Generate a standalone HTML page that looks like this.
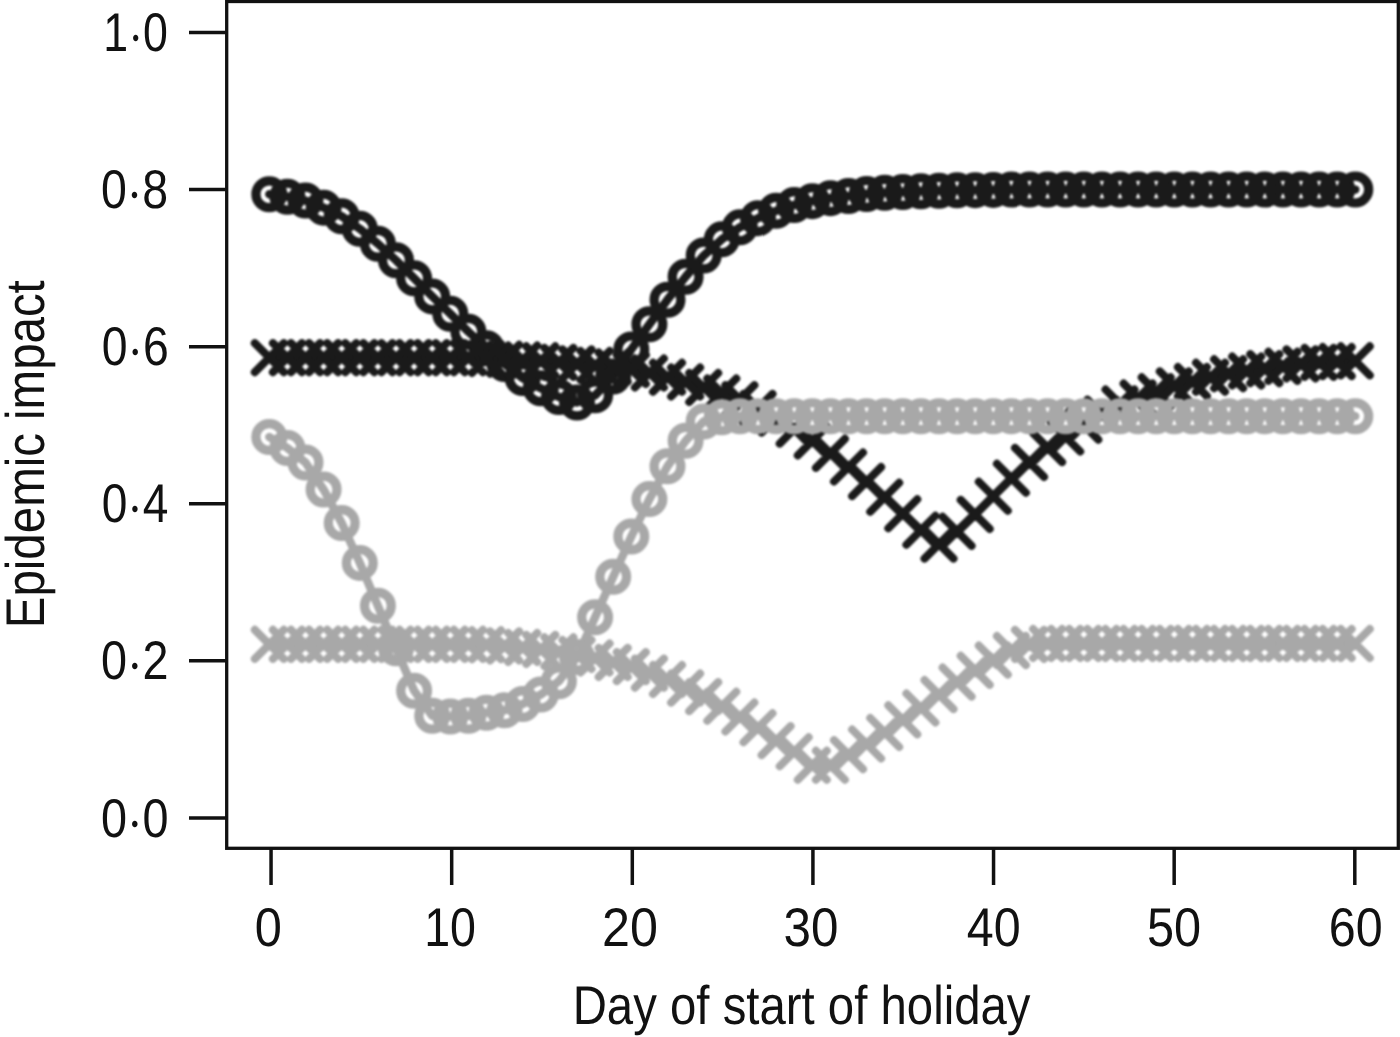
<!DOCTYPE html>
<html><head><meta charset="utf-8"><title>Epidemic impact vs day of start of holiday</title>
<style>html,body{margin:0;padding:0;background:#fff;width:1400px;height:1037px;overflow:hidden}svg{display:block}</style>
</head><body>
<svg width="1400" height="1037" viewBox="0 0 1400 1037">
<defs>
<clipPath id="pc"><rect x="228.3" y="3.1" width="1168.4" height="843.6"/></clipPath>
<filter id="bl" x="-5%" y="-5%" width="110%" height="110%" color-interpolation-filters="sRGB"><feGaussianBlur stdDeviation="1.3"/></filter>
</defs>
<rect width="1400" height="1037" fill="#fff"/>
<g clip-path="url(#pc)"><g filter="url(#bl)">
<path d="M269.30,194.29 L287.40,196.65 L305.50,200.58 L323.60,207.64 L341.70,216.28 L359.80,228.85 L377.90,243.77 L396.00,260.27 L414.10,278.33 L432.20,296.39 L450.30,313.67 L468.40,331.74 L486.50,348.23 L504.60,363.94 L522.70,378.08 L540.80,388.29 L558.90,396.93 L577.00,402.42 L595.10,395.35 L613.20,376.51 L631.30,349.41 L649.40,324.28 L667.50,299.69 L685.60,276.76 L703.70,255.55 L721.80,239.37 L739.90,227.36 L758.00,218.17 L776.10,210.79 L794.20,204.97 L812.30,201.13 L830.40,198.14 L848.50,196.10 L866.60,193.90 L884.70,192.72 L902.80,191.94 L920.90,191.15 L939.00,190.68 L957.10,190.37 L975.20,190.13 L993.30,189.89 L1011.40,189.58 L1029.50,189.58 L1047.60,189.58 L1065.70,189.58 L1083.80,189.58 L1101.90,189.58 L1120.00,189.58 L1138.10,189.58 L1156.20,189.58 L1174.30,189.58 L1192.40,189.58 L1210.50,189.58 L1228.60,189.58 L1246.70,189.58 L1264.80,189.58 L1282.90,189.58 L1301.00,189.58 L1319.10,189.58 L1337.20,189.58 L1355.30,189.58" fill="none" stroke="#1a1a1a" stroke-width="8.4" stroke-linejoin="round" stroke-linecap="round"/>
<g fill="none" stroke="#1a1a1a" stroke-width="9.2">
<circle cx="269.30" cy="194.29" r="13.4"/>
<circle cx="287.40" cy="196.65" r="13.4"/>
<circle cx="305.50" cy="200.58" r="13.4"/>
<circle cx="323.60" cy="207.64" r="13.4"/>
<circle cx="341.70" cy="216.28" r="13.4"/>
<circle cx="359.80" cy="228.85" r="13.4"/>
<circle cx="377.90" cy="243.77" r="13.4"/>
<circle cx="396.00" cy="260.27" r="13.4"/>
<circle cx="414.10" cy="278.33" r="13.4"/>
<circle cx="432.20" cy="296.39" r="13.4"/>
<circle cx="450.30" cy="313.67" r="13.4"/>
<circle cx="468.40" cy="331.74" r="13.4"/>
<circle cx="486.50" cy="348.23" r="13.4"/>
<circle cx="504.60" cy="363.94" r="13.4"/>
<circle cx="522.70" cy="378.08" r="13.4"/>
<circle cx="540.80" cy="388.29" r="13.4"/>
<circle cx="558.90" cy="396.93" r="13.4"/>
<circle cx="577.00" cy="402.42" r="13.4"/>
<circle cx="595.10" cy="395.35" r="13.4"/>
<circle cx="613.20" cy="376.51" r="13.4"/>
<circle cx="631.30" cy="349.41" r="13.4"/>
<circle cx="649.40" cy="324.28" r="13.4"/>
<circle cx="667.50" cy="299.69" r="13.4"/>
<circle cx="685.60" cy="276.76" r="13.4"/>
<circle cx="703.70" cy="255.55" r="13.4"/>
<circle cx="721.80" cy="239.37" r="13.4"/>
<circle cx="739.90" cy="227.36" r="13.4"/>
<circle cx="758.00" cy="218.17" r="13.4"/>
<circle cx="776.10" cy="210.79" r="13.4"/>
<circle cx="794.20" cy="204.97" r="13.4"/>
<circle cx="812.30" cy="201.13" r="13.4"/>
<circle cx="830.40" cy="198.14" r="13.4"/>
<circle cx="848.50" cy="196.10" r="13.4"/>
<circle cx="866.60" cy="193.90" r="13.4"/>
<circle cx="884.70" cy="192.72" r="13.4"/>
<circle cx="902.80" cy="191.94" r="13.4"/>
<circle cx="920.90" cy="191.15" r="13.4"/>
<circle cx="939.00" cy="190.68" r="13.4"/>
<circle cx="957.10" cy="190.37" r="13.4"/>
<circle cx="975.20" cy="190.13" r="13.4"/>
<circle cx="993.30" cy="189.89" r="13.4"/>
<circle cx="1011.40" cy="189.58" r="13.4"/>
<circle cx="1029.50" cy="189.58" r="13.4"/>
<circle cx="1047.60" cy="189.58" r="13.4"/>
<circle cx="1065.70" cy="189.58" r="13.4"/>
<circle cx="1083.80" cy="189.58" r="13.4"/>
<circle cx="1101.90" cy="189.58" r="13.4"/>
<circle cx="1120.00" cy="189.58" r="13.4"/>
<circle cx="1138.10" cy="189.58" r="13.4"/>
<circle cx="1156.20" cy="189.58" r="13.4"/>
<circle cx="1174.30" cy="189.58" r="13.4"/>
<circle cx="1192.40" cy="189.58" r="13.4"/>
<circle cx="1210.50" cy="189.58" r="13.4"/>
<circle cx="1228.60" cy="189.58" r="13.4"/>
<circle cx="1246.70" cy="189.58" r="13.4"/>
<circle cx="1264.80" cy="189.58" r="13.4"/>
<circle cx="1282.90" cy="189.58" r="13.4"/>
<circle cx="1301.00" cy="189.58" r="13.4"/>
<circle cx="1319.10" cy="189.58" r="13.4"/>
<circle cx="1337.20" cy="189.58" r="13.4"/>
<circle cx="1355.30" cy="189.58" r="13.4"/>
</g>
<path d="M269.30,357.66 L287.40,357.66 L305.50,357.66 L323.60,357.66 L341.70,357.66 L359.80,357.66 L377.90,357.66 L396.00,357.66 L414.10,357.66 L432.20,357.66 L450.30,357.66 L468.40,357.66 L486.50,358.44 L504.60,359.23 L522.70,360.01 L540.80,360.80 L558.90,362.37 L577.00,363.94 L595.10,365.51 L613.20,367.08 L631.30,369.44 L649.40,372.97 L667.50,377.29 L685.60,382.00 L703.70,387.50 L721.80,393.00 L739.90,399.67 L758.00,408.39 L776.10,418.13 L794.20,429.13 L812.30,440.91 L830.40,453.32 L848.50,466.98 L866.60,481.59 L884.70,497.22 L902.80,513.71 L920.90,530.21 L939.00,544.11 L957.10,531.31 L975.20,514.42 L993.30,496.28 L1011.40,478.29 L1029.50,462.43 L1047.60,447.58 L1065.70,436.98 L1083.80,425.20 L1101.90,414.20 L1120.00,403.99 L1138.10,398.10 L1156.20,391.82 L1174.30,385.93 L1192.40,381.61 L1210.50,377.29 L1228.60,373.76 L1246.70,371.01 L1264.80,368.65 L1282.90,366.30 L1301.00,363.94 L1319.10,362.37 L1337.20,361.58 L1355.30,360.80" fill="none" stroke="#1a1a1a" stroke-width="8.4" stroke-linejoin="round" stroke-linecap="round"/>
<path d="M254.80,343.16l29.0,29.0M254.80,372.16l29.0,-29.0M272.90,343.16l29.0,29.0M272.90,372.16l29.0,-29.0M291.00,343.16l29.0,29.0M291.00,372.16l29.0,-29.0M309.10,343.16l29.0,29.0M309.10,372.16l29.0,-29.0M327.20,343.16l29.0,29.0M327.20,372.16l29.0,-29.0M345.30,343.16l29.0,29.0M345.30,372.16l29.0,-29.0M363.40,343.16l29.0,29.0M363.40,372.16l29.0,-29.0M381.50,343.16l29.0,29.0M381.50,372.16l29.0,-29.0M399.60,343.16l29.0,29.0M399.60,372.16l29.0,-29.0M417.70,343.16l29.0,29.0M417.70,372.16l29.0,-29.0M435.80,343.16l29.0,29.0M435.80,372.16l29.0,-29.0M453.90,343.16l29.0,29.0M453.90,372.16l29.0,-29.0M472.00,343.94l29.0,29.0M472.00,372.94l29.0,-29.0M490.10,344.73l29.0,29.0M490.10,373.73l29.0,-29.0M508.20,345.51l29.0,29.0M508.20,374.51l29.0,-29.0M526.30,346.30l29.0,29.0M526.30,375.30l29.0,-29.0M544.40,347.87l29.0,29.0M544.40,376.87l29.0,-29.0M562.50,349.44l29.0,29.0M562.50,378.44l29.0,-29.0M580.60,351.01l29.0,29.0M580.60,380.01l29.0,-29.0M598.70,352.58l29.0,29.0M598.70,381.58l29.0,-29.0M616.80,354.94l29.0,29.0M616.80,383.94l29.0,-29.0M634.90,358.47l29.0,29.0M634.90,387.47l29.0,-29.0M653.00,362.79l29.0,29.0M653.00,391.79l29.0,-29.0M671.10,367.50l29.0,29.0M671.10,396.50l29.0,-29.0M689.20,373.00l29.0,29.0M689.20,402.00l29.0,-29.0M707.30,378.50l29.0,29.0M707.30,407.50l29.0,-29.0M725.40,385.17l29.0,29.0M725.40,414.17l29.0,-29.0M743.50,393.89l29.0,29.0M743.50,422.89l29.0,-29.0M761.60,403.63l29.0,29.0M761.60,432.63l29.0,-29.0M779.70,414.63l29.0,29.0M779.70,443.63l29.0,-29.0M797.80,426.41l29.0,29.0M797.80,455.41l29.0,-29.0M815.90,438.82l29.0,29.0M815.90,467.82l29.0,-29.0M834.00,452.48l29.0,29.0M834.00,481.48l29.0,-29.0M852.10,467.09l29.0,29.0M852.10,496.09l29.0,-29.0M870.20,482.72l29.0,29.0M870.20,511.72l29.0,-29.0M888.30,499.21l29.0,29.0M888.30,528.21l29.0,-29.0M906.40,515.71l29.0,29.0M906.40,544.71l29.0,-29.0M924.50,529.61l29.0,29.0M924.50,558.61l29.0,-29.0M942.60,516.81l29.0,29.0M942.60,545.81l29.0,-29.0M960.70,499.92l29.0,29.0M960.70,528.92l29.0,-29.0M978.80,481.78l29.0,29.0M978.80,510.78l29.0,-29.0M996.90,463.79l29.0,29.0M996.90,492.79l29.0,-29.0M1015.00,447.93l29.0,29.0M1015.00,476.93l29.0,-29.0M1033.10,433.08l29.0,29.0M1033.10,462.08l29.0,-29.0M1051.20,422.48l29.0,29.0M1051.20,451.48l29.0,-29.0M1069.30,410.70l29.0,29.0M1069.30,439.70l29.0,-29.0M1087.40,399.70l29.0,29.0M1087.40,428.70l29.0,-29.0M1105.50,389.49l29.0,29.0M1105.50,418.49l29.0,-29.0M1123.60,383.60l29.0,29.0M1123.60,412.60l29.0,-29.0M1141.70,377.32l29.0,29.0M1141.70,406.32l29.0,-29.0M1159.80,371.43l29.0,29.0M1159.80,400.43l29.0,-29.0M1177.90,367.11l29.0,29.0M1177.90,396.11l29.0,-29.0M1196.00,362.79l29.0,29.0M1196.00,391.79l29.0,-29.0M1214.10,359.26l29.0,29.0M1214.10,388.26l29.0,-29.0M1232.20,356.51l29.0,29.0M1232.20,385.51l29.0,-29.0M1250.30,354.15l29.0,29.0M1250.30,383.15l29.0,-29.0M1268.40,351.80l29.0,29.0M1268.40,380.80l29.0,-29.0M1286.50,349.44l29.0,29.0M1286.50,378.44l29.0,-29.0M1304.60,347.87l29.0,29.0M1304.60,376.87l29.0,-29.0M1322.70,347.08l29.0,29.0M1322.70,376.08l29.0,-29.0M1340.80,346.30l29.0,29.0M1340.80,375.30l29.0,-29.0" fill="none" stroke="#1a1a1a" stroke-width="8" stroke-linecap="round"/>
<path d="M269.30,436.98 L287.40,447.98 L305.50,462.51 L323.60,489.60 L341.70,522.98 L359.80,562.88 L377.90,605.84 L396.00,648.25 L414.10,690.67 L432.20,715.80 L450.30,716.58 L468.40,715.80 L486.50,712.66 L504.60,710.30 L522.70,704.02 L540.80,694.59 L558.90,681.24 L577.00,656.89 L595.10,617.23 L613.20,576.78 L631.30,536.49 L649.40,499.11 L667.50,466.20 L685.60,440.83 L703.70,421.43 L721.80,417.35 L739.90,416.17 L758.00,416.17 L776.10,416.17 L794.20,416.17 L812.30,416.17 L830.40,416.17 L848.50,416.17 L866.60,416.17 L884.70,416.17 L902.80,416.17 L920.90,416.17 L939.00,416.17 L957.10,416.17 L975.20,416.17 L993.30,416.17 L1011.40,416.17 L1029.50,416.17 L1047.60,416.17 L1065.70,416.17 L1083.80,416.17 L1101.90,416.17 L1120.00,416.17 L1138.10,416.17 L1156.20,416.17 L1174.30,416.17 L1192.40,416.17 L1210.50,416.17 L1228.60,416.17 L1246.70,416.17 L1264.80,416.17 L1282.90,416.17 L1301.00,416.17 L1319.10,416.17 L1337.20,416.17 L1355.30,416.17" fill="none" stroke="#a8a8a8" stroke-width="8.4" stroke-linejoin="round" stroke-linecap="round"/>
<g fill="none" stroke="#a8a8a8" stroke-width="9.2">
<circle cx="269.30" cy="436.98" r="13.4"/>
<circle cx="287.40" cy="447.98" r="13.4"/>
<circle cx="305.50" cy="462.51" r="13.4"/>
<circle cx="323.60" cy="489.60" r="13.4"/>
<circle cx="341.70" cy="522.98" r="13.4"/>
<circle cx="359.80" cy="562.88" r="13.4"/>
<circle cx="377.90" cy="605.84" r="13.4"/>
<circle cx="396.00" cy="648.25" r="13.4"/>
<circle cx="414.10" cy="690.67" r="13.4"/>
<circle cx="432.20" cy="715.80" r="13.4"/>
<circle cx="450.30" cy="716.58" r="13.4"/>
<circle cx="468.40" cy="715.80" r="13.4"/>
<circle cx="486.50" cy="712.66" r="13.4"/>
<circle cx="504.60" cy="710.30" r="13.4"/>
<circle cx="522.70" cy="704.02" r="13.4"/>
<circle cx="540.80" cy="694.59" r="13.4"/>
<circle cx="558.90" cy="681.24" r="13.4"/>
<circle cx="577.00" cy="656.89" r="13.4"/>
<circle cx="595.10" cy="617.23" r="13.4"/>
<circle cx="613.20" cy="576.78" r="13.4"/>
<circle cx="631.30" cy="536.49" r="13.4"/>
<circle cx="649.40" cy="499.11" r="13.4"/>
<circle cx="667.50" cy="466.20" r="13.4"/>
<circle cx="685.60" cy="440.83" r="13.4"/>
<circle cx="703.70" cy="421.43" r="13.4"/>
<circle cx="721.80" cy="417.35" r="13.4"/>
<circle cx="739.90" cy="416.17" r="13.4"/>
<circle cx="758.00" cy="416.17" r="13.4"/>
<circle cx="776.10" cy="416.17" r="13.4"/>
<circle cx="794.20" cy="416.17" r="13.4"/>
<circle cx="812.30" cy="416.17" r="13.4"/>
<circle cx="830.40" cy="416.17" r="13.4"/>
<circle cx="848.50" cy="416.17" r="13.4"/>
<circle cx="866.60" cy="416.17" r="13.4"/>
<circle cx="884.70" cy="416.17" r="13.4"/>
<circle cx="902.80" cy="416.17" r="13.4"/>
<circle cx="920.90" cy="416.17" r="13.4"/>
<circle cx="939.00" cy="416.17" r="13.4"/>
<circle cx="957.10" cy="416.17" r="13.4"/>
<circle cx="975.20" cy="416.17" r="13.4"/>
<circle cx="993.30" cy="416.17" r="13.4"/>
<circle cx="1011.40" cy="416.17" r="13.4"/>
<circle cx="1029.50" cy="416.17" r="13.4"/>
<circle cx="1047.60" cy="416.17" r="13.4"/>
<circle cx="1065.70" cy="416.17" r="13.4"/>
<circle cx="1083.80" cy="416.17" r="13.4"/>
<circle cx="1101.90" cy="416.17" r="13.4"/>
<circle cx="1120.00" cy="416.17" r="13.4"/>
<circle cx="1138.10" cy="416.17" r="13.4"/>
<circle cx="1156.20" cy="416.17" r="13.4"/>
<circle cx="1174.30" cy="416.17" r="13.4"/>
<circle cx="1192.40" cy="416.17" r="13.4"/>
<circle cx="1210.50" cy="416.17" r="13.4"/>
<circle cx="1228.60" cy="416.17" r="13.4"/>
<circle cx="1246.70" cy="416.17" r="13.4"/>
<circle cx="1264.80" cy="416.17" r="13.4"/>
<circle cx="1282.90" cy="416.17" r="13.4"/>
<circle cx="1301.00" cy="416.17" r="13.4"/>
<circle cx="1319.10" cy="416.17" r="13.4"/>
<circle cx="1337.20" cy="416.17" r="13.4"/>
<circle cx="1355.30" cy="416.17" r="13.4"/>
</g>
<path d="M269.30,644.33 L287.40,644.33 L305.50,644.33 L323.60,644.33 L341.70,644.33 L359.80,644.33 L377.90,644.33 L396.00,644.33 L414.10,644.33 L432.20,644.33 L450.30,644.33 L468.40,644.33 L486.50,644.72 L504.60,645.90 L522.70,647.47 L540.80,649.43 L558.90,651.79 L577.00,654.54 L595.10,657.99 L613.20,662.39 L631.30,666.63 L649.40,673.15 L667.50,679.51 L685.60,688.07 L703.70,696.63 L721.80,706.29 L739.90,716.98 L758.00,727.74 L776.10,740.62 L794.20,751.77 L812.30,765.28 L830.40,765.28 L848.50,754.68 L866.60,743.99 L884.70,732.53 L902.80,719.80 L920.90,708.02 L939.00,694.59 L957.10,682.10 L975.20,670.32 L993.30,660.11 L1011.40,650.61 L1029.50,644.41 L1047.60,643.54 L1065.70,643.54 L1083.80,643.54 L1101.90,643.54 L1120.00,643.54 L1138.10,643.54 L1156.20,643.54 L1174.30,643.54 L1192.40,643.54 L1210.50,643.54 L1228.60,643.54 L1246.70,643.54 L1264.80,643.54 L1282.90,643.54 L1301.00,643.54 L1319.10,643.54 L1337.20,643.54 L1355.30,643.54" fill="none" stroke="#a8a8a8" stroke-width="8.4" stroke-linejoin="round" stroke-linecap="round"/>
<path d="M254.80,629.83l29.0,29.0M254.80,658.83l29.0,-29.0M272.90,629.83l29.0,29.0M272.90,658.83l29.0,-29.0M291.00,629.83l29.0,29.0M291.00,658.83l29.0,-29.0M309.10,629.83l29.0,29.0M309.10,658.83l29.0,-29.0M327.20,629.83l29.0,29.0M327.20,658.83l29.0,-29.0M345.30,629.83l29.0,29.0M345.30,658.83l29.0,-29.0M363.40,629.83l29.0,29.0M363.40,658.83l29.0,-29.0M381.50,629.83l29.0,29.0M381.50,658.83l29.0,-29.0M399.60,629.83l29.0,29.0M399.60,658.83l29.0,-29.0M417.70,629.83l29.0,29.0M417.70,658.83l29.0,-29.0M435.80,629.83l29.0,29.0M435.80,658.83l29.0,-29.0M453.90,629.83l29.0,29.0M453.90,658.83l29.0,-29.0M472.00,630.22l29.0,29.0M472.00,659.22l29.0,-29.0M490.10,631.40l29.0,29.0M490.10,660.40l29.0,-29.0M508.20,632.97l29.0,29.0M508.20,661.97l29.0,-29.0M526.30,634.93l29.0,29.0M526.30,663.93l29.0,-29.0M544.40,637.29l29.0,29.0M544.40,666.29l29.0,-29.0M562.50,640.04l29.0,29.0M562.50,669.04l29.0,-29.0M580.60,643.49l29.0,29.0M580.60,672.49l29.0,-29.0M598.70,647.89l29.0,29.0M598.70,676.89l29.0,-29.0M616.80,652.13l29.0,29.0M616.80,681.13l29.0,-29.0M634.90,658.65l29.0,29.0M634.90,687.65l29.0,-29.0M653.00,665.01l29.0,29.0M653.00,694.01l29.0,-29.0M671.10,673.57l29.0,29.0M671.10,702.57l29.0,-29.0M689.20,682.13l29.0,29.0M689.20,711.13l29.0,-29.0M707.30,691.79l29.0,29.0M707.30,720.79l29.0,-29.0M725.40,702.48l29.0,29.0M725.40,731.48l29.0,-29.0M743.50,713.24l29.0,29.0M743.50,742.24l29.0,-29.0M761.60,726.12l29.0,29.0M761.60,755.12l29.0,-29.0M779.70,737.27l29.0,29.0M779.70,766.27l29.0,-29.0M797.80,750.78l29.0,29.0M797.80,779.78l29.0,-29.0M815.90,750.78l29.0,29.0M815.90,779.78l29.0,-29.0M834.00,740.18l29.0,29.0M834.00,769.18l29.0,-29.0M852.10,729.49l29.0,29.0M852.10,758.49l29.0,-29.0M870.20,718.03l29.0,29.0M870.20,747.03l29.0,-29.0M888.30,705.30l29.0,29.0M888.30,734.30l29.0,-29.0M906.40,693.52l29.0,29.0M906.40,722.52l29.0,-29.0M924.50,680.09l29.0,29.0M924.50,709.09l29.0,-29.0M942.60,667.60l29.0,29.0M942.60,696.60l29.0,-29.0M960.70,655.82l29.0,29.0M960.70,684.82l29.0,-29.0M978.80,645.61l29.0,29.0M978.80,674.61l29.0,-29.0M996.90,636.11l29.0,29.0M996.90,665.11l29.0,-29.0M1015.00,629.91l29.0,29.0M1015.00,658.91l29.0,-29.0M1033.10,629.04l29.0,29.0M1033.10,658.04l29.0,-29.0M1051.20,629.04l29.0,29.0M1051.20,658.04l29.0,-29.0M1069.30,629.04l29.0,29.0M1069.30,658.04l29.0,-29.0M1087.40,629.04l29.0,29.0M1087.40,658.04l29.0,-29.0M1105.50,629.04l29.0,29.0M1105.50,658.04l29.0,-29.0M1123.60,629.04l29.0,29.0M1123.60,658.04l29.0,-29.0M1141.70,629.04l29.0,29.0M1141.70,658.04l29.0,-29.0M1159.80,629.04l29.0,29.0M1159.80,658.04l29.0,-29.0M1177.90,629.04l29.0,29.0M1177.90,658.04l29.0,-29.0M1196.00,629.04l29.0,29.0M1196.00,658.04l29.0,-29.0M1214.10,629.04l29.0,29.0M1214.10,658.04l29.0,-29.0M1232.20,629.04l29.0,29.0M1232.20,658.04l29.0,-29.0M1250.30,629.04l29.0,29.0M1250.30,658.04l29.0,-29.0M1268.40,629.04l29.0,29.0M1268.40,658.04l29.0,-29.0M1286.50,629.04l29.0,29.0M1286.50,658.04l29.0,-29.0M1304.60,629.04l29.0,29.0M1304.60,658.04l29.0,-29.0M1322.70,629.04l29.0,29.0M1322.70,658.04l29.0,-29.0M1340.80,629.04l29.0,29.0M1340.80,658.04l29.0,-29.0" fill="none" stroke="#a8a8a8" stroke-width="8" stroke-linecap="round"/>
</g></g>
<rect x="226.7" y="1.5" width="1171.6" height="846.8" fill="none" stroke="#111" stroke-width="3.3"/>
<line x1="189" y1="817.90" x2="226" y2="817.90" stroke="#111" stroke-width="3.5"/>
<line x1="189" y1="660.82" x2="226" y2="660.82" stroke="#111" stroke-width="3.5"/>
<line x1="189" y1="503.74" x2="226" y2="503.74" stroke="#111" stroke-width="3.5"/>
<line x1="189" y1="346.66" x2="226" y2="346.66" stroke="#111" stroke-width="3.5"/>
<line x1="189" y1="189.58" x2="226" y2="189.58" stroke="#111" stroke-width="3.5"/>
<line x1="189" y1="32.50" x2="226" y2="32.50" stroke="#111" stroke-width="3.5"/>
<line x1="271.05" y1="848" x2="271.05" y2="885" stroke="#111" stroke-width="3.5"/>
<line x1="451.68" y1="848" x2="451.68" y2="885" stroke="#111" stroke-width="3.5"/>
<line x1="632.30" y1="848" x2="632.30" y2="885" stroke="#111" stroke-width="3.5"/>
<line x1="812.92" y1="848" x2="812.92" y2="885" stroke="#111" stroke-width="3.5"/>
<line x1="993.55" y1="848" x2="993.55" y2="885" stroke="#111" stroke-width="3.5"/>
<line x1="1174.17" y1="848" x2="1174.17" y2="885" stroke="#111" stroke-width="3.5"/>
<line x1="1354.80" y1="848" x2="1354.80" y2="885" stroke="#111" stroke-width="3.5"/>
<text x="168.50" y="837.20" text-anchor="end" textLength="67.60" text-rendering="geometricPrecision" font-size="54.5" font-family="'Liberation Sans', Arial, sans-serif" fill="#111" stroke="#111" stroke-width="0" lengthAdjust="spacingAndGlyphs">0<tspan font-family="'Liberation Serif', serif" dy="5">·</tspan><tspan dy="-5">0</tspan></text>
<text x="168.50" y="679.10" text-anchor="end" textLength="67.60" text-rendering="geometricPrecision" font-size="54.5" font-family="'Liberation Sans', Arial, sans-serif" fill="#111" stroke="#111" stroke-width="0" lengthAdjust="spacingAndGlyphs">0<tspan font-family="'Liberation Serif', serif" dy="5">·</tspan><tspan dy="-5">2</tspan></text>
<text x="168.30" y="521.90" text-anchor="end" textLength="66.60" text-rendering="geometricPrecision" font-size="54.5" font-family="'Liberation Sans', Arial, sans-serif" fill="#111" stroke="#111" stroke-width="0" lengthAdjust="spacingAndGlyphs">0<tspan font-family="'Liberation Serif', serif" dy="5">·</tspan><tspan dy="-5">4</tspan></text>
<text x="168.70" y="364.50" text-anchor="end" textLength="67.00" text-rendering="geometricPrecision" font-size="54.5" font-family="'Liberation Sans', Arial, sans-serif" fill="#111" stroke="#111" stroke-width="0" lengthAdjust="spacingAndGlyphs">0<tspan font-family="'Liberation Serif', serif" dy="5">·</tspan><tspan dy="-5">6</tspan></text>
<text x="168.10" y="207.70" text-anchor="end" textLength="67.20" text-rendering="geometricPrecision" font-size="54.5" font-family="'Liberation Sans', Arial, sans-serif" fill="#111" stroke="#111" stroke-width="0" lengthAdjust="spacingAndGlyphs">0<tspan font-family="'Liberation Serif', serif" dy="5">·</tspan><tspan dy="-5">8</tspan></text>
<text x="167.90" y="51.20" text-anchor="end" textLength="64.60" text-rendering="geometricPrecision" font-size="54.5" font-family="'Liberation Sans', Arial, sans-serif" fill="#111" stroke="#111" stroke-width="0" lengthAdjust="spacingAndGlyphs">1<tspan font-family="'Liberation Serif', serif" dy="5">·</tspan><tspan dy="-5">0</tspan></text>
<text x="268.35" y="945.80" text-anchor="middle" textLength="27.10" text-rendering="geometricPrecision" font-size="54.5" font-family="'Liberation Sans', Arial, sans-serif" fill="#111" stroke="#111" stroke-width="0" lengthAdjust="spacingAndGlyphs">0</text>
<text x="450.10" y="945.80" text-anchor="middle" textLength="51.80" text-rendering="geometricPrecision" font-size="54.5" font-family="'Liberation Sans', Arial, sans-serif" fill="#111" stroke="#111" stroke-width="0" lengthAdjust="spacingAndGlyphs">10</text>
<text x="630.05" y="945.80" text-anchor="middle" textLength="55.90" text-rendering="geometricPrecision" font-size="54.5" font-family="'Liberation Sans', Arial, sans-serif" fill="#111" stroke="#111" stroke-width="0" lengthAdjust="spacingAndGlyphs">20</text>
<text x="811.05" y="945.80" text-anchor="middle" textLength="54.90" text-rendering="geometricPrecision" font-size="54.5" font-family="'Liberation Sans', Arial, sans-serif" fill="#111" stroke="#111" stroke-width="0" lengthAdjust="spacingAndGlyphs">30</text>
<text x="993.65" y="945.80" text-anchor="middle" textLength="53.90" text-rendering="geometricPrecision" font-size="54.5" font-family="'Liberation Sans', Arial, sans-serif" fill="#111" stroke="#111" stroke-width="0" lengthAdjust="spacingAndGlyphs">40</text>
<text x="1173.95" y="945.80" text-anchor="middle" textLength="54.10" text-rendering="geometricPrecision" font-size="54.5" font-family="'Liberation Sans', Arial, sans-serif" fill="#111" stroke="#111" stroke-width="0" lengthAdjust="spacingAndGlyphs">50</text>
<text x="1355.65" y="945.80" text-anchor="middle" textLength="53.90" text-rendering="geometricPrecision" font-size="54.5" font-family="'Liberation Sans', Arial, sans-serif" fill="#111" stroke="#111" stroke-width="0" lengthAdjust="spacingAndGlyphs">60</text>
<text x="801.60" y="1024.20" text-anchor="middle" textLength="457.80" text-rendering="geometricPrecision" font-size="54.5" font-family="'Liberation Sans', Arial, sans-serif" fill="#111" stroke="#111" stroke-width="0" lengthAdjust="spacingAndGlyphs">Day of start of holiday</text>
<text transform="translate(43.80,454.20) rotate(-90)" x="0" y="0" text-anchor="middle" textLength="348.00" text-rendering="geometricPrecision" font-size="54.5" font-family="'Liberation Sans', Arial, sans-serif" fill="#111" stroke="#111" stroke-width="0" lengthAdjust="spacingAndGlyphs">Epidemic impact</text>
</svg>
</body></html>
